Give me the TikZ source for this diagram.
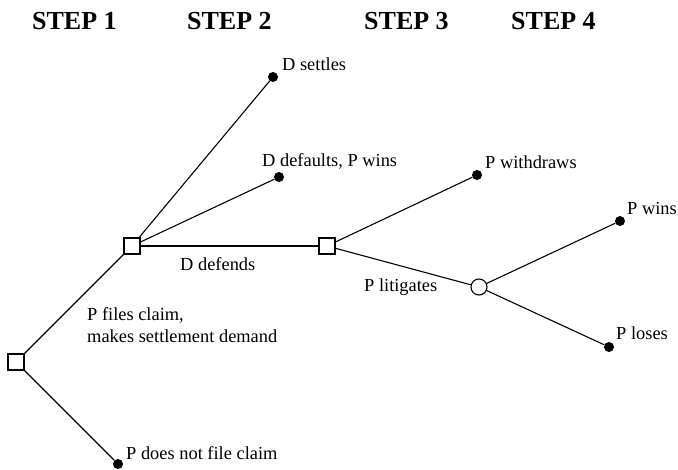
\documentclass[tikz,border=0pt]{standalone}
\usepackage{fontspec}
\setmainfont{Liberation Serif}
\begin{document}
\begin{tikzpicture}[x=1pt,y=-1pt,
  decision/.style={draw,rectangle,minimum size=16pt,inner sep=0pt,line width=1.1pt,fill=white},
  chance/.style={draw,circle,minimum size=16pt,inner sep=0pt,line width=1.1pt,fill=white},
  endpt/.style={circle,fill=black,minimum size=10pt,inner sep=0pt},
  lbl/.style={anchor=base west,inner sep=0pt,font=\fontsize{18.4}{22}\selectfont},
  head/.style={anchor=base west,inner sep=0pt,font=\fontsize{26}{30}\selectfont\bfseries},
  edge/.style={line width=1.1pt}]
\useasboundingbox (0,0) rectangle (678,469);
% headings
\node[head] (h1) at (32,29) {STEP 1};
\node[head] (h2) at (187,29) {STEP 2};
\node[head] (h3) at (364,29) {STEP 3};
\node[head] (h4) at (511,29) {STEP 4};
% nodes
\node[decision] (r) at (16,362) {};
\node[decision] (s2) at (132,246) {};
\node[decision] (s3) at (327,246) {};
\node[chance] (c) at (479,287) {};
\node[endpt] (nf) at (118,464) {};
\node[endpt] (ds) at (273,77) {};
\node[endpt] (dd) at (279,177) {};
\node[endpt] (pw) at (477,175) {};
\node[endpt] (win) at (620,221) {};
\node[endpt] (lose) at (609,347) {};
% edges
\draw[edge] (r) -- (s2);
\draw[edge] (r) -- (nf);
\draw[edge] (s2) -- (ds);
\draw[edge] (s2) -- (dd);
\draw[edge] (s2) -- (s3);
\draw[edge] (s3) -- (pw);
\draw[edge] (s3) -- (c);
\draw[edge] (c) -- (win);
\draw[edge] (c) -- (lose);
% labels
\node[lbl] (l1) at (282,70) {D settles};
\node[lbl] (l2) at (262,166) {D defaults, P wins};
\node[lbl] (l3) at (180,270) {D defends};
\node[lbl] (l4) at (87,320) {P files claim,};
\node[lbl] (l5) at (87,342) {makes settlement demand};
\node[lbl] (l6) at (126,459) {P does not file claim};
\node[lbl] (l7) at (485,168) {P withdraws};
\node[lbl] (l8) at (364,291) {P litigates};
\node[lbl] (l9) at (627,214) {P wins};
\node[lbl] (l10) at (616,339) {P loses};
\end{tikzpicture}
\end{document}
